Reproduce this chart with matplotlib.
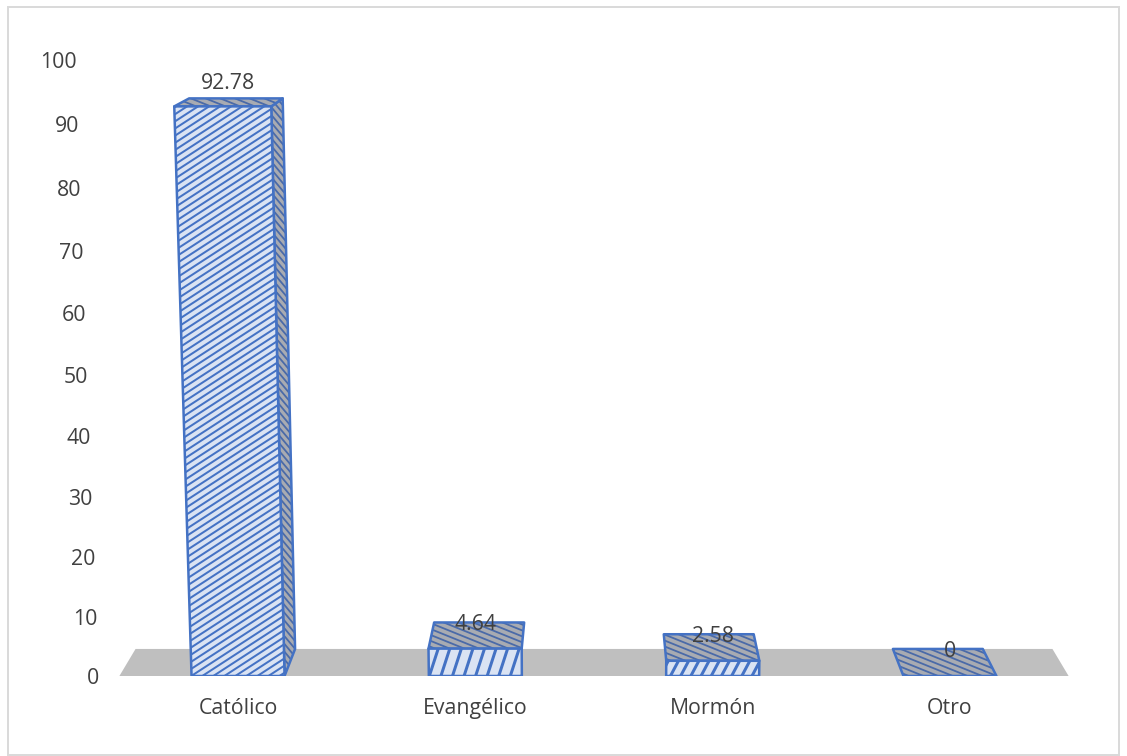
import numpy as np
import matplotlib
matplotlib.use("Agg")
import matplotlib.pyplot as plt
from matplotlib.collections import LineCollection
from matplotlib.patches import Polygon, Rectangle
from matplotlib.transforms import IdentityTransform

categories = ["Católico", "Evangélico", "Mormón", "Otro"]
values = [92.78, 4.64, 2.58, 0]
value_labels = ["92.78", "4.64", "2.58", "0"]
y_ticks = [0, 10, 20, 30, 40, 50, 60, 70, 80, 90, 100]

W, H = 1127, 756
DPI = 100
LEFT, RIGHT, BOTTOM, TOP = 119.4, 1068.6, 676, 60

# perspective constants for the fake 3D look
K = 0.000444
M = 0.0352
DEPTH = 28 / 5.886  # depth of the floor, in height units
BAR_HALF = 46.5 / 237.3

BLUE = "#4472C4"
LIGHT = "#DAE3F3"
GREY = "#A8ABB2"
HATCH_DARK = "#4A6AA8"
FLOOR = "#BFBFBF"
TEXT = "#404040"
FONT_SIZE = 15.3

# hatch angle, spacing and width in pixels for each bar's front
front_angle = [33, 72, 62, 62]
front_gap = [6, 11, 9, 9]
front_lw = [2.0, 3.0, 3.0, 3.0]

plt.rcParams["font.family"] = ["Open Sans", "DejaVu Sans"]


def forward(v):
    v = np.asarray(v, dtype=float)
    return v / (1 - K * v)


def inverse(s):
    s = np.asarray(s, dtype=float)
    return s / (1 + K * s)


def project(cat, v, d=0.0):
    # category position, value and depth (0 front, 1 back) to data coordinates
    w = 1 - K * v + M * d
    x = 1.5 + (cat - 1.5) / w
    y = inverse((v + DEPTH * d) / w)
    return float(x), float(y)


def hatch(ax, patch, angle, gap, lw=1.8, color=BLUE):
    # straight hatch lines at any angle, clipped to the face
    ax.add_patch(patch)
    box = patch.get_window_extent()
    cx, cy = (box.x0 + box.x1) / 2, (box.y0 + box.y1) / 2
    r = np.hypot(box.width, box.height) / 2 + gap
    a = np.radians(angle)
    d = np.array([np.cos(a), np.sin(a)])
    n = np.array([-d[1], d[0]])
    segs = []
    for off in np.arange(-r, r + gap, gap):
        mid = np.array([cx, cy]) + n * off
        segs.append([mid - d * r, mid + d * r])
    lc = LineCollection(segs, colors=color, linewidths=lw * 72 / DPI,
                        transform=IdentityTransform(), zorder=patch.get_zorder())
    ax.add_collection(lc, autolim=False)
    lc.set_clip_path(patch)


def outline(ax, pts, z):
    ax.add_patch(Polygon(pts, closed=True, fill=False, edgecolor=BLUE,
                         linewidth=2.5 * 72 / DPI, joinstyle="round", zorder=z))


fig = plt.figure(figsize=(W / DPI, H / DPI), dpi=DPI)
fig.add_artist(Rectangle((8 / W, 1 - 755 / H), 1111 / W, 748.5 / H, fill=False,
                         edgecolor="#D9D9D9", linewidth=1.4,
                         transform=fig.transFigure))

ax = fig.add_axes([LEFT / W, 1 - BOTTOM / H, (RIGHT - LEFT) / W, (BOTTOM - TOP) / H])
ax.set_yscale("function", functions=(forward, inverse))
ax.set_xlim(-0.5, 3.5)
ax.set_ylim(0, 100)
ax.patch.set_visible(False)
for s in ax.spines.values():
    s.set_visible(False)

ax.set_xticks(range(len(categories)))
ax.set_xticklabels(categories, fontsize=FONT_SIZE, color=TEXT)
ax.set_yticks(y_ticks)
ax.set_yticklabels([str(t) for t in y_ticks], fontsize=FONT_SIZE, color=TEXT)
ax.minorticks_off()
ax.tick_params(axis="both", which="both", length=0)
ax.tick_params(axis="x", pad=15.5)

# y tick labels lean with the perspective, so each gets its own pad
for t, tick in zip(y_ticks, ax.yaxis.get_major_ticks()):
    label_px = 594 + (99.5 - 594) / (1 - K * t)
    tick.set_pad((LEFT - label_px) * 72 / DPI)

# floor
ax.add_patch(Polygon([project(-0.5, 0, 0), project(3.5, 0, 0),
                      project(3.5, 0, 1), project(-0.5, 0, 1)],
                     closed=True, facecolor=FLOOR, edgecolor="none", zorder=1))

for i, v in enumerate(values):
    l, r = i - BAR_HALF, i + BAR_HALF
    z = 2 + i

    # right side
    side = [project(r, 0, 0), project(r, 0, 1), project(r, v, 1), project(r, v, 0)]
    if v > 20:
        hatch(ax, Polygon(side, closed=True, facecolor=GREY, edgecolor="none", zorder=z),
              -50, 5, color=HATCH_DARK)
        outline(ax, side, z)

    # top
    top = [project(l, v, 0), project(r, v, 0), project(r, v, 1), project(l, v, 1)]
    hatch(ax, Polygon(top, closed=True, facecolor=GREY, edgecolor="none", zorder=z),
          -22, 5.5, color=HATCH_DARK)
    outline(ax, top, z)

    # front
    if v > 0:
        front = [project(l, 0, 0), project(r, 0, 0), project(r, v, 0), project(l, v, 0)]
        hatch(ax, Polygon(front, closed=True, facecolor=LIGHT, edgecolor="none", zorder=z),
              front_angle[i], front_gap[i], lw=front_lw[i])
        outline(ax, front, z)

    # value label
    x = project(i, v, 0)[0]
    y = project(i, v, 1)[1]
    lift = 17 if v > 20 else 0
    shift = 5.5 if v > 20 else 0
    ax.annotate(value_labels[i], (x, y), xytext=(shift * 72 / DPI, lift * 72 / DPI),
                textcoords="offset points", ha="center", va="center_baseline",
                fontsize=FONT_SIZE, color=TEXT, zorder=10, annotation_clip=False)

fig.savefig("out.png", dpi=DPI, facecolor="white")
